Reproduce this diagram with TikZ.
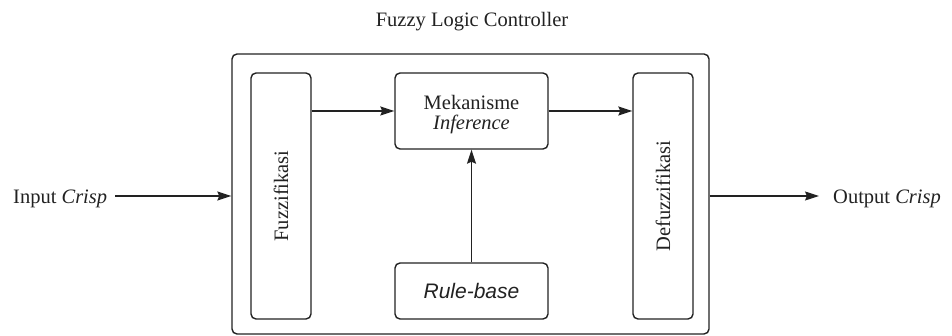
\documentclass[tikz,border=0pt]{standalone}
\usepackage{fontspec}
\setmainfont{Liberation Serif}
\setsansfont{Liberation Sans}
\usetikzlibrary{arrows.meta}
\definecolor{ink}{HTML}{222222}
\tikzset{
  blk/.style={draw=ink, line width=1.4pt, rounded corners=5pt, fill=white, inner sep=0pt},
  lbl/.style={font=\fontsize{20.5}{22}\selectfont, text=ink, inner sep=0pt},
  arr/.style={draw=ink, line width=1.2pt, -{Stealth[length=14pt,width=9pt,inset=2pt]}},
}
\begin{document}
\begin{tikzpicture}[x=1pt,y=-1pt]
\useasboundingbox[fill=white] (0,0) rectangle (952,336);

% controller frame and its title
\node[blk, minimum width=477pt, minimum height=280pt] (outer) at (470.5,194) {};
\node[lbl] (title) at (472,22) {Fuzzy Logic Controller};

% inner blocks
\node[blk, minimum width=60pt, minimum height=246pt] (fuzz) at (281,196) {};
\node[lbl, rotate=90] (fuzztxt) at (fuzz.center) {Fuzzifikasi};
\node[blk, minimum width=60pt, minimum height=246pt] (defuzz) at (663,196) {};
\node[lbl, rotate=90] (defuzztxt) at (defuzz.center) {Defuzzifikasi};
\node[blk, minimum width=153pt, minimum height=76pt] (mek) at (471.5,111) {};
\node[lbl, align=center] (mektxt) at (471.5,115) {Mekanisme\\[-2pt]\textit{Inference}};
\node[blk, minimum width=153pt, minimum height=56pt, lbl, font=\sffamily\itshape\fontsize{21}{22}\selectfont] (rule) at (471.5,291) {Rule-base};

% crisp input and output
\node[lbl, anchor=base west] (inp) at (13,204) {Input \textit{Crisp}};
\node[lbl, anchor=base west] (outp) at (833,204) {Output \textit{Crisp}};

% signal flow
\draw[arr] ([xshift=8pt]inp.east |- fuzz) -- (outer.west |- fuzz);
\draw[arr] (fuzz.east |- mek) -- (mek.west);
\draw[arr] (mek.east) -- (defuzz.west |- mek);
\draw[arr] (rule.north) -- (mek.south);
\draw[arr] (outer.east |- defuzz) -- ([xshift=-14pt]outp.west |- defuzz);
\end{tikzpicture}
\end{document}
